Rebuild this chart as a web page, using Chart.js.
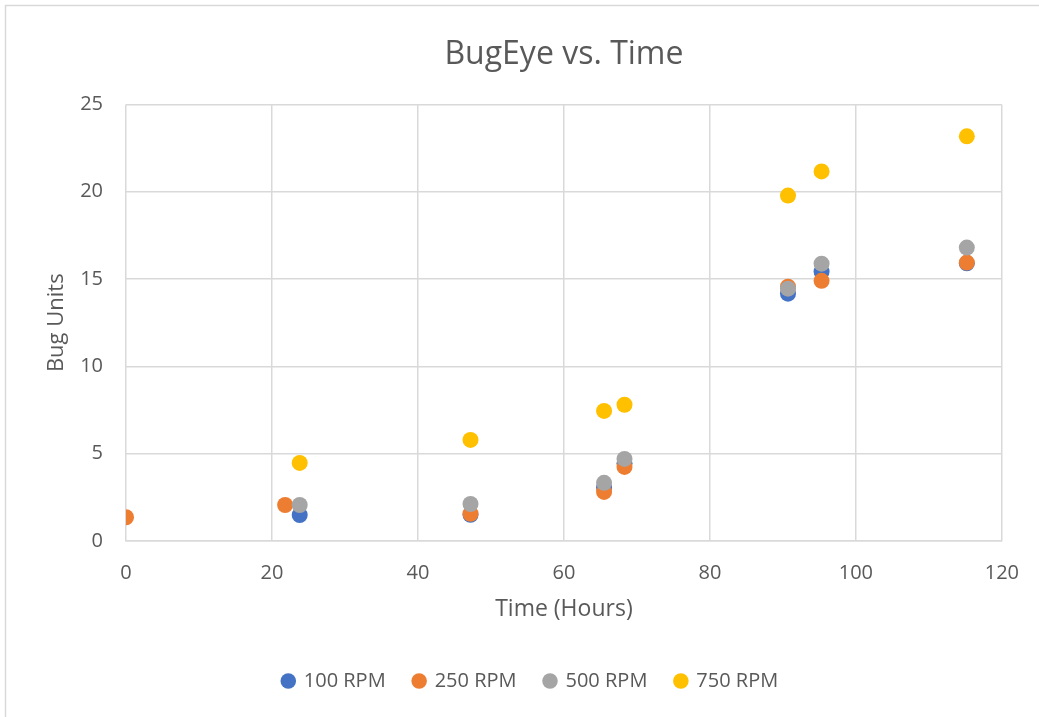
<!DOCTYPE html>
<html>
<head>
<meta charset="utf-8">
<script src="https://cdn.jsdelivr.net/npm/chart.js@4/dist/chart.umd.min.js"></script>
<style>
  html, body { margin: 0; padding: 0; background: #ffffff; }
  #wrap { width: 1039px; height: 717px; }
</style>
</head>
<body>
<div id="wrap"><canvas id="c" width="1039" height="717"></canvas></div>
<script>
// Sampling times (hours) and BugEye readings per shaker speed
const rpm100 = [
  { x: 23.8, y: 1.49 }, { x: 47.2, y: 1.5 }, { x: 65.5, y: 3.05 },
  { x: 68.3, y: 4.45 }, { x: 90.7, y: 14.16 }, { x: 95.3, y: 15.42 },
  { x: 115.2, y: 15.9 }
];
const rpm250 = [
  { x: 0, y: 1.36 }, { x: 21.8, y: 2.06 }, { x: 47.2, y: 1.56 },
  { x: 65.5, y: 2.81 }, { x: 68.3, y: 4.24 }, { x: 90.7, y: 14.56 },
  { x: 95.3, y: 14.9 }, { x: 115.2, y: 15.94 }
];
const rpm500 = [
  { x: 23.8, y: 2.06 }, { x: 47.2, y: 2.12 }, { x: 65.5, y: 3.33 },
  { x: 68.3, y: 4.7 }, { x: 90.7, y: 14.45 }, { x: 95.3, y: 15.88 },
  { x: 115.2, y: 16.8 }
];
const rpm750 = [
  { x: 23.8, y: 4.47 }, { x: 47.2, y: 5.79 }, { x: 65.5, y: 7.45 },
  { x: 68.3, y: 7.8 }, { x: 90.7, y: 19.78 }, { x: 95.3, y: 21.16 },
  { x: 115.2, y: 23.17 }
];
const seriesNames = ['100 RPM', '250 RPM', '500 RPM', '750 RPM'];
const seriesColors = ['#4472C4', '#ED7D31', '#A5A5A5', '#FFC000'];

const FONT = "'Open Sans', 'Liberation Sans', sans-serif";
const TEXT = '#595959';
const GRID = '#D9D9D9';

// White background and a thin frame around the whole chart
const framePlugin = {
  id: 'frame',
  beforeDraw(chart) {
    const ctx = chart.ctx;
    ctx.save();
    ctx.fillStyle = '#ffffff';
    ctx.fillRect(0, 0, chart.width, chart.height);
    ctx.strokeStyle = GRID;
    ctx.lineWidth = 1.5;
    ctx.strokeRect(5.5, 5.5, chart.width + 20, chart.height + 20);
    ctx.restore();
  }
};

// Centre the title over the plot area and nudge the legend to the right
const centerPlugin = {
  id: 'centerBlocks',
  afterLayout(chart) {
    const a = chart.chartArea;
    if (chart.titleBlock) {
      chart.titleBlock.left = a.left;
      chart.titleBlock.right = a.right;
    }
    if (chart.legend) {
      chart.legend.left += 28;
      chart.legend.right += 28;
    }
  }
};

const sets = [rpm100, rpm250, rpm500, rpm750].map((d, i) => ({
  label: seriesNames[i],
  data: d,
  backgroundColor: seriesColors[i],
  borderColor: seriesColors[i],
  pointRadius: 8,
  pointHoverRadius: 8,
  borderWidth: 0,
  order: 4 - i
}));

new Chart(document.getElementById('c'), {
  type: 'scatter',
  data: { datasets: sets },
  plugins: [framePlugin, centerPlugin],
  options: {
    responsive: false,
    animation: false,
    devicePixelRatio: 1,
    layout: { padding: { left: 0, right: 34, top: 0, bottom: 16 } },
    plugins: {
      tooltip: { enabled: false },
      title: {
        display: true,
        text: 'BugEye vs. Time',
        color: TEXT,
        font: { family: FONT, size: 32, weight: 'normal' },
        padding: { top: 36, bottom: 30 }
      },
      legend: {
        position: 'bottom',
        labels: {
          usePointStyle: true,
          pointStyle: 'circle',
          boxWidth: 11,
          boxHeight: 11,
          color: TEXT,
          padding: 28,
          font: { family: FONT, size: 20 },
          sort: (a, b) => a.datasetIndex - b.datasetIndex
        }
      }
    },
    scales: {
      x: {
        type: 'linear',
        min: 0, max: 120,
        ticks: { stepSize: 20, color: TEXT, font: { family: FONT, size: 20 }, padding: 20 },
        grid: { color: GRID, lineWidth: 1.5, drawTicks: false },
        border: { display: true, color: GRID, width: 1.5 },
        title: {
          display: true, text: 'Time (Hours)', color: TEXT,
          font: { family: FONT, size: 23 }, padding: { top: 10, bottom: 20 }
        },
        afterFit(s) { s.height = 102; }
      },
      y: {
        type: 'linear',
        min: 0, max: 25,
        ticks: { stepSize: 5, color: TEXT, font: { family: FONT, size: 20 }, padding: 23 },
        grid: { color: GRID, lineWidth: 1.5, drawTicks: false },
        border: { display: false },
        title: {
          display: true, text: 'Bug Units', color: TEXT,
          font: { family: FONT, size: 22 }, padding: { top: 44, bottom: 10 }
        },
        afterFit(s) { s.width = 126; }
      }
    }
  }
});
</script>
</body>
</html>
